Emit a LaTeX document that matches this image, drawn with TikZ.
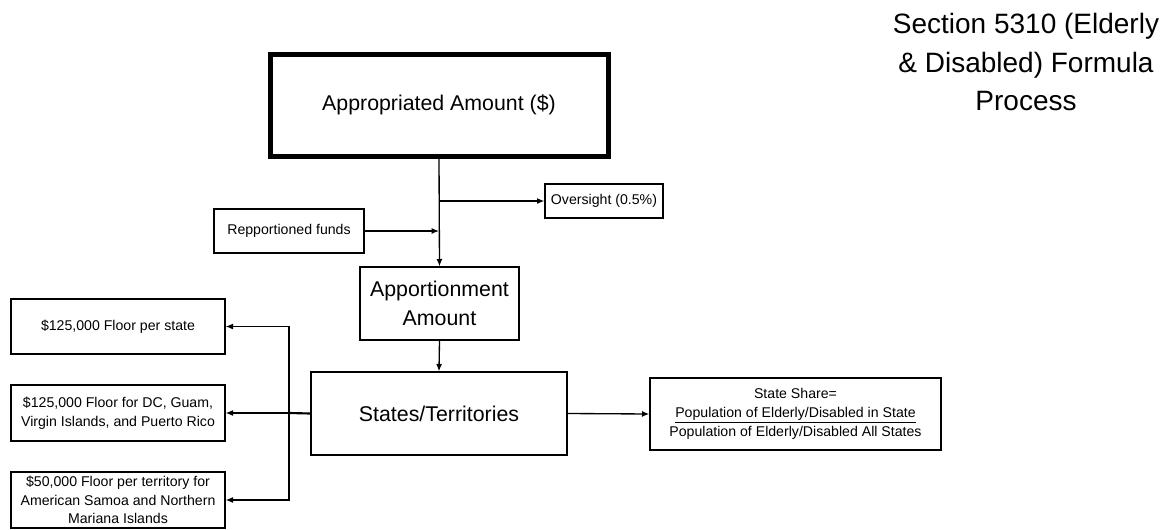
\documentclass[tikz,border=0pt]{standalone}
\usepackage{fontspec}
\setmainfont{Liberation Sans}
\usetikzlibrary{arrows.meta}
\begin{document}
\begin{tikzpicture}[x=0.75pt,y=-0.75pt,
  box/.style={draw, line width=1pt, inner sep=0pt, align=center, font=\fontsize{10.6}{14}\selectfont},
  big/.style={font=\fontsize{16}{21.75}\selectfont},
  conn/.style={line width=1pt, -{Latex[length=5.5pt,width=4.5pt]}},
  plain/.style={line width=1pt}]
\useasboundingbox (0,0) rectangle (1172,529);
\node[align=center, font=\fontsize{21}{29}\selectfont] (title) at (1026,62) {Section 5310 (Elderly\\ \& Disabled) Formula\\ Process};
\node[box, big, line width=3.75pt, minimum width=338*0.75pt, minimum height=102*0.75pt] (app) at (439,105) {Appropriated Amount (\$)};
\node[box, minimum width=118*0.75pt, minimum height=34*0.75pt] (over) at (604,201) {Oversight (0.5\%)};
\node[box, minimum width=150*0.75pt, minimum height=44*0.75pt] (rep) at (289,231) {Repportioned funds};
\node[box, big, minimum width=159*0.75pt, minimum height=73*0.75pt] (apport) at (439.5,303.5) {Apportionment\\ Amount};
\node[box, big, minimum width=256*0.75pt, minimum height=83*0.75pt] (states) at (439,413.5) {States/Territories};
\node[box, minimum width=291*0.75pt, minimum height=72*0.75pt] (share) at (795.5,414) {State Share=\\ \underline{Population of Elderly/Disabled in State}\\ Population of Elderly/Disabled All States};
\node[box, minimum width=214*0.75pt, minimum height=55*0.75pt] (f1) at (118,326.5) {\$125,000 Floor per state};
\node[box, minimum width=214*0.75pt, minimum height=56*0.75pt] (f2) at (118,413) {\$125,000 Floor for DC, Guam,\\ Virgin Islands, and Puerto Rico};
\node[box, minimum width=214*0.75pt, minimum height=56*0.75pt] (f3) at (118,500) {\$50,000 Floor per territory for\\ American Samoa and Northern\\ Mariana Islands};
% connectors
\coordinate (br) at (app.south |- over.west);
\coordinate (jn) at (app.south |- rep.east);
\coordinate (bus) at (289,413);
\draw[conn] (app.south) -- (apport.north);
\draw[conn] (br) -- (over.west);
\draw[conn] (rep.east) -- (jn);
\draw[conn] (apport.south) -- (states.north);
\draw[conn] (states.east) -- (share.west);
\draw[plain, line width=1.6pt] (states.west) -- (bus);
\draw[conn] (bus) -- (f2.east);
\draw[conn] (bus) |- (f1.east);
\draw[conn] (bus) |- (f3.east);
\end{tikzpicture}
\end{document}
